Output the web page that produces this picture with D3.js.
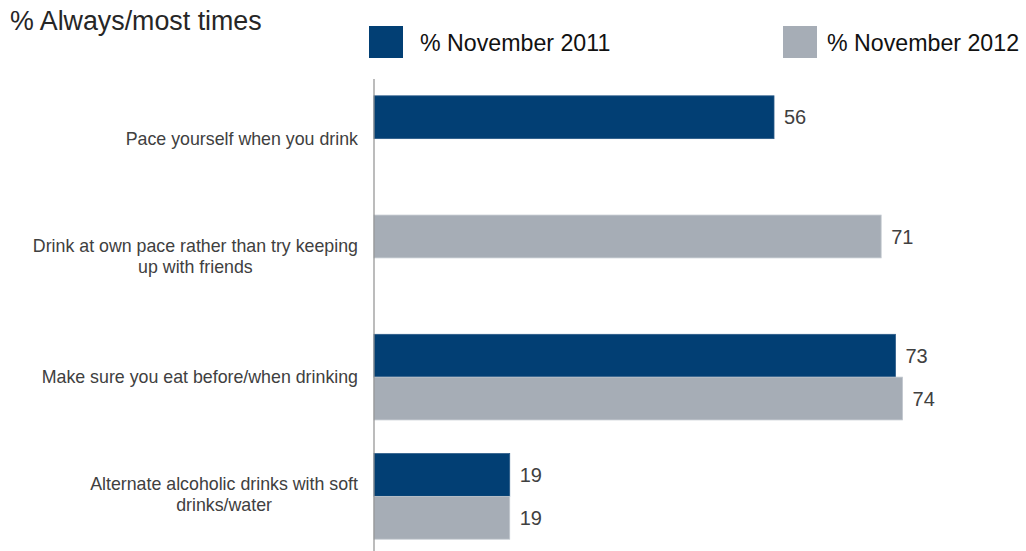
<!DOCTYPE html>
<html>
<head>
<meta charset="utf-8">
<script src="https://cdn.jsdelivr.net/npm/d3@7"></script>
<style>
  html, body { margin: 0; padding: 0; background: #fff; }
  svg { display: block; font-family: "Liberation Sans", Arial, sans-serif; }
</style>
</head>
<body>
<svg id="chart" width="1026" height="551"></svg>
<script>
// Survey items (line breaks mark where a label wraps)
const categories = [
  "Pace yourself when you drink",
  "Drink at own pace rather than try keeping\nup with friends",
  "Make sure you eat before/when drinking",
  "Alternate alcoholic drinks with soft\ndrinks/water"
];
// % answering always / most times; null = not asked that wave
const nov2011 = [56, null, 73, 19];
const nov2012 = [null, 71, 74, 19];
const seriesNames = ["% November 2011", "% November 2012"];
const seriesColors = ["#023f74", "#a6adb6"];
const titleText = "% Always/most times";

const series = [nov2011, nov2012];
const svg = d3.select("#chart");

// Scales
const x = d3.scaleLinear().domain([0, 100]).range([374, 374 + 714.3]);
const y = d3.scaleBand().domain(d3.range(categories.length)).range([79, 556]).padding(0);
const barH = 42.8;

// Flatten into bars; categories with a single wave use the upper slot
const bars = [];
categories.forEach((c, i) => {
  let slot = 0;
  series.forEach((s, k) => {
    if (s[i] != null) {
      bars.push({ cat: i, series: k, value: s[i], slot: slot });
      slot++;
    }
  });
});
const slotY = d => y(d.cat) + y.bandwidth() / 2 - barH + d.slot * barH;

// Title
svg.append("text")
  .attr("x", 10).attr("y", 30)
  .attr("font-size", 26.8)
  .attr("fill", "#262626")
  .text(titleText);

// Legend
const legendSwatchX = [369, 783];
const legendTextX = [420, 827];
seriesNames.forEach((name, k) => {
  svg.append("rect")
    .attr("x", legendSwatchX[k]).attr("y", 26)
    .attr("width", 34).attr("height", 32)
    .attr("fill", seriesColors[k]);
  svg.append("text")
    .attr("x", legendTextX[k]).attr("y", 51)
    .attr("font-size", 23.2).attr("fill", "#111")
    .text(name);
});

// Bars
svg.append("g").selectAll("rect")
  .data(bars)
  .join("rect")
  .attr("x", x(0))
  .attr("y", d => slotY(d))
  .attr("width", d => x(d.value) - x(0))
  .attr("height", barH)
  .attr("fill", d => seriesColors[d.series])
  .attr("stroke", d => d.series === 0 ? "#2a5a88" : "#c2c8cf")
  .attr("stroke-width", 0.8);

// Value labels
svg.append("g").selectAll("text")
  .data(bars)
  .join("text")
  .attr("x", d => x(d.value) + 10)
  .attr("y", d => slotY(d) + barH / 2)
  .attr("dy", "0.36em")
  .attr("font-size", 20)
  .attr("fill", "#404040")
  .text(d => d.value);

// Vertical axis line
svg.append("line")
  .attr("x1", x(0)).attr("x2", x(0))
  .attr("y1", y.range()[0]).attr("y2", 551)
  .attr("stroke", "#8f8f8f").attr("stroke-width", 1.2);

// Category labels: centred text blocks whose right edge sits left of the axis
const labelRight = 358;
const lineGap = 21;
categories.forEach((c, i) => {
  const lines = c.split("\n");
  const cy = y(i) + y.bandwidth() / 2;
  const t = svg.append("text")
    .attr("font-size", 17.8)
    .attr("fill", "#404040")
    .attr("text-anchor", "middle");
  const spans = lines.map((ln, j) =>
    t.append("tspan")
      .attr("y", cy + (j - (lines.length - 1) / 2) * lineGap - (lines.length > 1 ? 2 : 0))
      .attr("dy", "0.35em")
      .text(ln));
  const w = d3.max(spans, s => s.node().getComputedTextLength());
  spans.forEach(s => s.attr("x", labelRight - w / 2));
});
</script>
</body>
</html>
